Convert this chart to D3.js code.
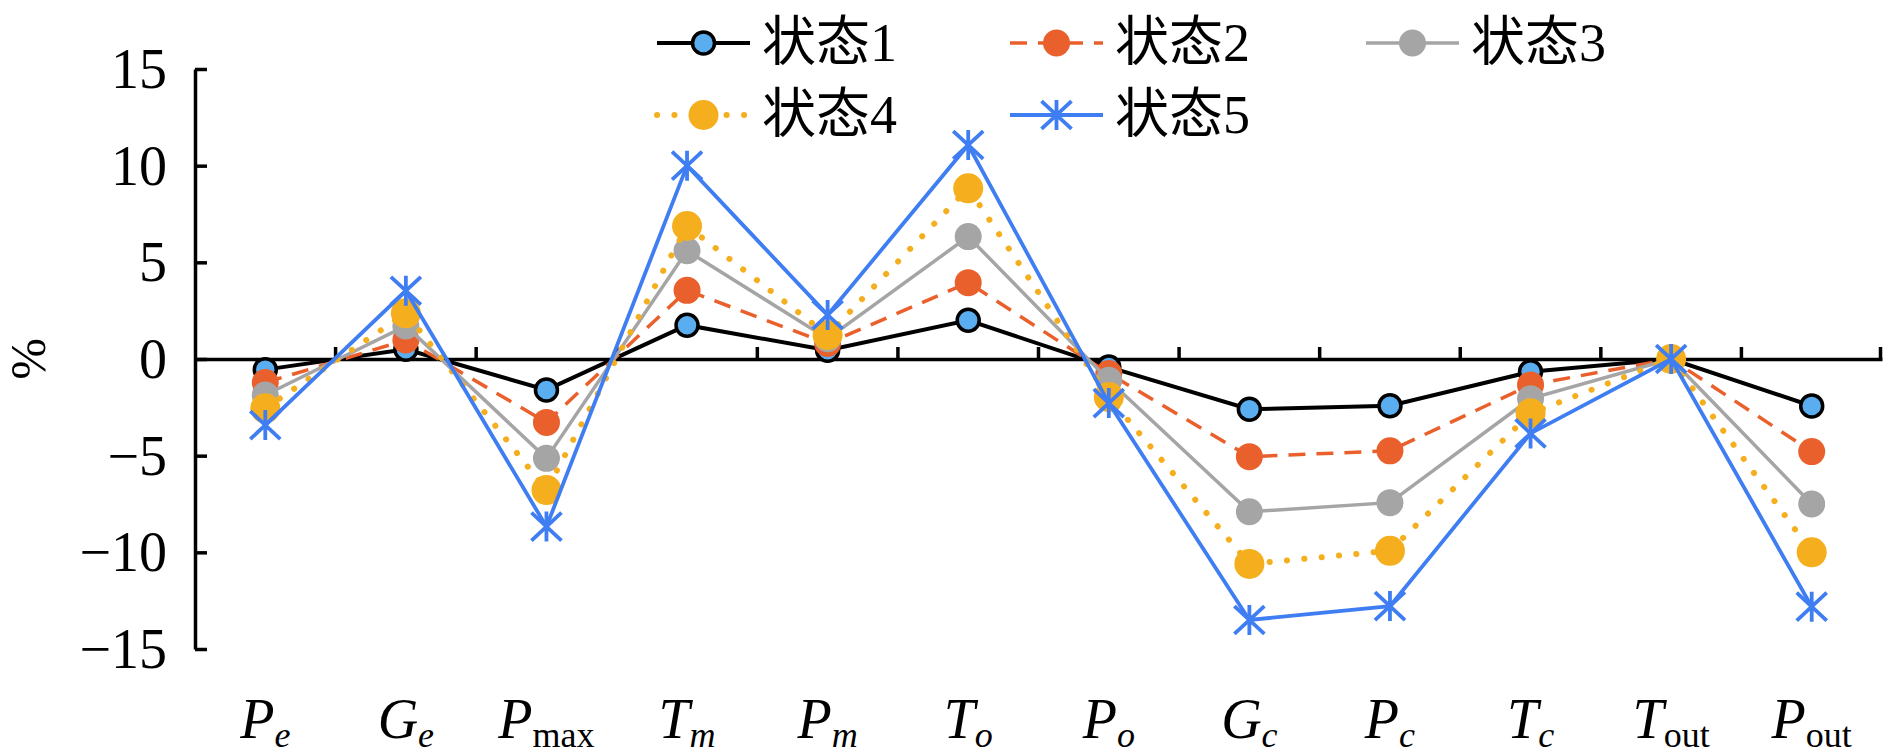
<!DOCTYPE html>
<html>
<head>
<meta charset="utf-8">
<script src="https://cdn.jsdelivr.net/npm/d3@7"></script>
<style>
  html, body { margin: 0; padding: 0; background: #ffffff; }
  svg { display: block; }
  .serif { font-family: "Times New Roman", "Liberation Serif", serif; }
  .legend-text { font-family: "Times New Roman", "Liberation Serif", "Noto Sans CJK SC", serif; }
</style>
</head>
<body>
<div id="chart"></div>
<script>
// 横轴类别 (主字母 + 下标, 下标是否斜体)
const categories = ['Pe', 'Ge', 'Pmax', 'Tm', 'Pm', 'To', 'Po', 'Gc', 'Pc', 'Tc', 'Tout', 'Pout'];
const labelMain = ['P', 'G', 'P', 'T', 'P', 'T', 'P', 'G', 'P', 'T', 'T', 'P'];
const labelSub = ['e', 'e', 'max', 'm', 'm', 'o', 'o', 'c', 'c', 'c', 'out', 'out'];
const subItalic = [true, true, false, true, true, true, true, true, true, true, false, false];

// 各状态数值 (%)
const seriesNames = ['状态1', '状态2', '状态3', '状态4', '状态5'];
const state1 = [-0.55, 0.5, -1.6, 1.75, 0.45, 2.0, -0.42, -2.6, -2.42, -0.66, 0, -2.43];
const state2 = [-1.22, 0.98, -3.28, 3.55, 0.8, 3.95, -0.75, -5.05, -4.75, -1.34, 0, -4.79];
const state3 = [-1.86, 1.71, -5.14, 5.6, 1.05, 6.33, -1.1, -7.9, -7.43, -2.05, 0, -7.5];
const state4 = [-2.55, 2.36, -6.78, 6.88, 1.24, 8.83, -1.97, -10.6, -9.92, -2.81, 0, -10.0];
const state5 = [-3.42, 3.53, -8.67, 10.0, 2.28, 11.07, -2.28, -13.5, -12.78, -3.85, 0, -12.81];

// 纵轴刻度
const yTicks = [-15, -10, -5, 0, 5, 10, 15];

const width = 1890;
const height = 756;
const margin = { top: 69, right: 8, bottom: 107, left: 195 };

// 每个系列的样式
const styles = [
    { color: '#000000', width: 4, dash: null, cap: 'butt', marker: 'circle', r: 11, fill: '#5AAEF0', stroke: '#000000' },
    { color: '#EA602C', width: 3.5, dash: '17 11', cap: 'butt', marker: 'circle', r: 13.5, fill: '#EA602C', stroke: 'none' },
    { color: '#A5A5A5', width: 3.5, dash: null, cap: 'butt', marker: 'circle', r: 13.5, fill: '#A5A5A5', stroke: 'none' },
    { color: '#F5AF1E', width: 6, dash: '0.1 17.3', cap: 'round', marker: 'circle', r: 15, fill: '#F5AF1E', stroke: 'none' },
    { color: '#3F7EF2', width: 3.8, dash: null, cap: 'butt', marker: 'star', r: 15, fill: 'none', stroke: '#3F7EF2' }
];

const seriesData = [state1, state2, state3, state4, state5];

const svg = d3.select('#chart')
    .append('svg')
    .attr('width', width)
    .attr('height', height);

// 比例尺
const xScale = d3.scaleBand()
    .domain(categories)
    .range([margin.left, width - margin.right])
    .paddingInner(0)
    .paddingOuter(0);

const yScale = d3.scaleLinear()
    .domain([-15, 15])
    .range([height - margin.bottom, margin.top]);

const cx = c => xScale(c) + xScale.bandwidth() / 2;

// 纵轴 (刻度朝内)
const yAxis = d3.axisRight(yScale)
    .tickValues(yTicks)
    .tickSize(12)
    .tickSizeOuter(0)
    .tickFormat('');

const yAxisG = svg.append('g')
    .attr('transform', `translate(${margin.left},0)`)
    .call(yAxis);
yAxisG.select('.domain').attr('stroke', '#000').attr('stroke-width', 3.5);
yAxisG.selectAll('.tick line').attr('stroke', '#000').attr('stroke-width', 3.5);

// 纵轴刻度标签
svg.selectAll('.y-label')
    .data(yTicks)
    .enter()
    .append('text')
    .attr('class', 'y-label serif')
    .attr('x', margin.left - 28)
    .attr('y', d => yScale(d))
    .attr('dy', '0.34em')
    .attr('text-anchor', 'end')
    .attr('fill', '#000')
    .style('font-size', '56px')
    .text(d => d < 0 ? '\u2212' + Math.abs(d) : d);

// 零线 (类别分隔刻度朝上)
const xAxis = d3.axisTop(xScale)
    .tickSize(0)
    .tickFormat('');

const xAxisG = svg.append('g')
    .attr('transform', `translate(0,${yScale(0)})`)
    .call(xAxis);
xAxisG.select('.domain').attr('stroke', '#000').attr('stroke-width', 3.5);
xAxisG.selectAll('.tick').remove();

const boundaries = categories.slice(1).map(c => xScale(c)).concat([xScale.range()[1] - 1.5]);
xAxisG.selectAll('.sep')
    .data(boundaries)
    .enter()
    .append('line')
    .attr('class', 'sep')
    .attr('x1', d => d)
    .attr('x2', d => d)
    .attr('y1', 0)
    .attr('y2', -12)
    .attr('stroke', '#000')
    .attr('stroke-width', 3.5);

// 横轴类别标签
const xLabels = svg.selectAll('.x-label')
    .data(categories)
    .enter()
    .append('text')
    .attr('class', 'x-label serif')
    .attr('x', d => cx(d))
    .attr('y', 738)
    .attr('text-anchor', 'middle')
    .attr('fill', '#000');

xLabels.append('tspan')
    .style('font-style', 'italic')
    .style('font-size', '56px')
    .text((d, i) => labelMain[i]);

xLabels.append('tspan')
    .attr('dy', 9)
    .style('font-style', (d, i) => subItalic[i] ? 'italic' : 'normal')
    .style('font-size', '36px')
    .text((d, i) => labelSub[i]);

// 纵轴标题
svg.append('text')
    .attr('class', 'serif')
    .attr('transform', `translate(27,${yScale(0)}) rotate(-90)`)
    .attr('text-anchor', 'middle')
    .attr('dy', '0.35em')
    .attr('fill', '#000')
    .style('font-size', '50px')
    .text('%');

// 标记绘制
function drawMarker(g, x, y, s) {
    if (s.marker === 'circle') {
        g.append('circle')
            .attr('cx', x)
            .attr('cy', y)
            .attr('r', s.r)
            .attr('fill', s.fill)
            .attr('stroke', s.stroke)
            .attr('stroke-width', s.stroke === 'none' ? 0 : 3.5);
    } else {
        const r = s.r;
        const path = `M${x - r},${y - r * 0.93}L${x + r},${y + r * 0.93}` +
            `M${x - r},${y + r * 0.93}L${x + r},${y - r * 0.93}` +
            `M${x},${y - r}L${x},${y + r}`;
        g.append('path')
            .attr('d', path)
            .attr('fill', 'none')
            .attr('stroke', s.stroke)
            .attr('stroke-width', 3.8);
    }
}

// 折线
const line = d3.line()
    .x((d, i) => cx(categories[i]))
    .y(d => yScale(d));

seriesData.forEach((values, k) => {
    const s = styles[k];
    const g = svg.append('g').attr('class', 'series');

    g.append('path')
        .datum(values)
        .attr('d', line)
        .attr('fill', 'none')
        .attr('stroke', s.color)
        .attr('stroke-width', s.width)
        .attr('stroke-dasharray', s.dash)
        .attr('stroke-linecap', s.cap)
        .attr('stroke-linejoin', 'miter');

    values.forEach((v, i) => drawMarker(g, cx(categories[i]), yScale(v), s));
});

// 图例
const legendX = [657, 1010, 1366];
const legendY = [43, 115];
const legendLine = 93;

seriesNames.forEach((name, k) => {
    const s = styles[k];
    const x0 = legendX[k % 3];
    const y0 = legendY[Math.floor(k / 3)];
    const g = svg.append('g').attr('class', 'legend-item');

    g.append('line')
        .attr('x1', x0)
        .attr('x2', x0 + legendLine)
        .attr('y1', y0)
        .attr('y2', y0)
        .attr('stroke', s.color)
        .attr('stroke-width', s.width)
        .attr('stroke-dasharray', s.dash)
        .attr('stroke-linecap', s.cap);

    drawMarker(g, x0 + legendLine / 2, y0, s);

    g.append('text')
        .attr('class', 'legend-text')
        .attr('x', x0 + legendLine + 12)
        .attr('y', y0 + 18)
        .attr('fill', '#000')
        .style('font-size', '54px')
        .text(name);
});
</script>
</body>
</html>
